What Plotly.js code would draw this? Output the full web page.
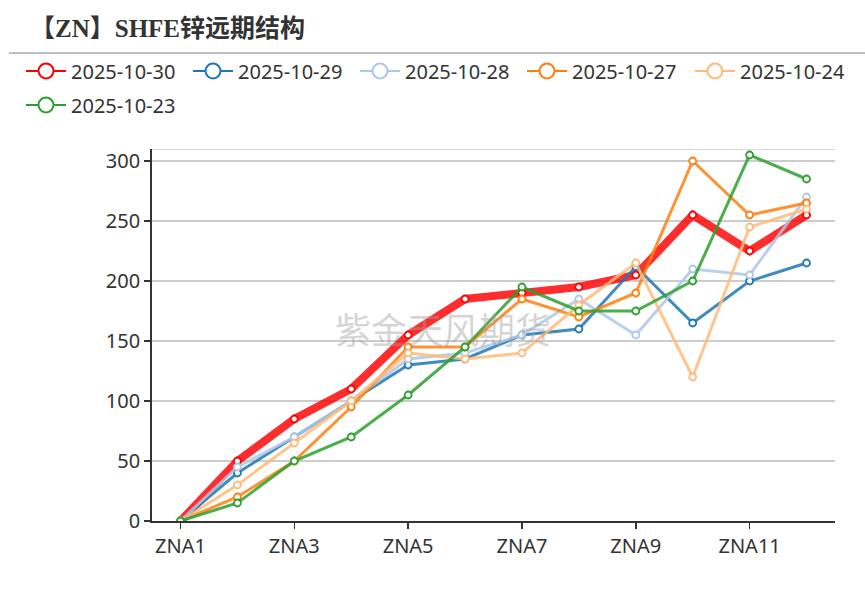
<!DOCTYPE html>
<html>
<head>
<meta charset="utf-8">
<script src="https://cdn.plot.ly/plotly-3.0.1.min.js"></script>
<style>html,body{margin:0;padding:0;background:#fff;}#chart{width:865px;height:590px;}</style>
</head>
<body>
<div id="chart"></div>
<script>
const categories = ['ZNA1','ZNA2','ZNA3','ZNA4','ZNA5','ZNA6','ZNA7','ZNA8','ZNA9','ZNA10','ZNA11','ZNA12'];
const seriesNames = ['2025-10-30','2025-10-29','2025-10-28','2025-10-27','2025-10-24','2025-10-23'];
const s1030 = [0, 50, 85, 110, 155, 185, 190, 195, 205, 255, 225, 255];
const s1029 = [0, 40, 70, 100, 130, 135, 155, 160, 212, 165, 200, 215];
const s1028 = [0, 45, 70, 100, 135, 140, 155, 185, 155, 210, 205, 270];
const s1027 = [0, 20, 50, 95, 145, 145, 185, 170, 190, 300, 255, 265];
const s1024 = [0, 30, 65, 100, 140, 135, 140, 180, 215, 120, 245, 260];
const s1023 = [0, 15, 50, 70, 105, 145, 195, 175, 175, 200, 305, 285];
const xTickLabels = ['ZNA1','ZNA3','ZNA5','ZNA7','ZNA9','ZNA11'];
const yTicks = [0, 50, 100, 150, 200, 250, 300];

const seriesValues = [s1030, s1029, s1028, s1027, s1024, s1023];
const colors = ['rgba(255,0,0,0.82)','rgba(31,119,180,0.85)','rgba(174,199,232,0.85)','rgba(255,127,14,0.85)','rgba(255,187,120,0.85)','rgba(44,160,44,0.85)'];
const legendColors = ['#ff0000','#1f77b4','#aec7e8','#ff7f0e','#ffbb78','#2ca02c'];
const widths = [8, 3, 3, 3, 3, 3];
// legend placement (pixels in the 865x590 page)
const legendX = [21, 188, 355, 522, 690, 21];
const legendY = [71, 71, 71, 71, 71, 105];

const traces = [];
seriesValues.forEach((vals, i) => {
  traces.push({
    type: 'scatter', mode: 'lines+markers',
    x: categories, y: vals, name: seriesNames[i], showlegend: false,
    line: {color: colors[i], width: widths[i]},
    marker: {symbol: 'circle', size: 7, color: '#ffffff', line: {color: legendColors[i], width: 1.8}},
    hoverinfo: 'skip'
  });
});
const legendFont = {size: 20, color: '#333333', family: "'Noto Sans', 'Noto Sans CJK SC', sans-serif"};
const layout = {
  width: 865, height: 590,
  margin: {l: 152, r: 30, t: 149, b: 69},
  paper_bgcolor: '#ffffff', plot_bgcolor: '#ffffff',
  font: {family: "'Noto Sans', 'Noto Sans CJK SC', sans-serif", color: '#333333', size: 20},
  title: {
    text: '【ZN】SHFE锌远期结构',
    font: {family: "'Liberation Serif', 'Noto Sans CJK SC', serif", size: 25, color: '#333333', weight: 'bold'},
    xref: 'container', yref: 'container', x: 30/865, xanchor: 'left', y: 1 - 28/590, yanchor: 'middle'
  },
  showlegend: true,
  xaxis: {
    type: 'category', range: [-0.5, 11.5], categoryorder: 'array', categoryarray: categories,
    tickmode: 'array', tickvals: xTickLabels, ticktext: xTickLabels,
    ticks: 'outside', ticklen: 6, tickwidth: 1.5, tickcolor: '#333333',
    showline: true, linecolor: '#333333', linewidth: 1.8,
    showgrid: false, zeroline: false, fixedrange: true,
    tickfont: {size: 20, color: '#333333'}
  },
  yaxis: {
    range: [0, 310], tickmode: 'array', tickvals: yTicks,
    ticks: 'outside', ticklen: 6, tickwidth: 1.5, tickcolor: '#333333',
    showline: true, linecolor: '#333333', linewidth: 1.8,
    showgrid: true, gridcolor: '#cccccc', gridwidth: 1.5, zeroline: false, fixedrange: true,
    tickfont: {size: 20, color: '#333333'}
  },
  shapes: [
    {type: 'line', xref: 'paper', yref: 'paper', x0: (9-152)/683, x1: (865-152)/683, y0: (521-53)/372, y1: (521-53)/372,
     line: {color: '#aaaaaa', width: 1.5}},
    {type: 'line', xref: 'paper', yref: 'y', x0: 0, x1: 1, y0: 310, y1: 310, line: {color: '#cccccc', width: 1.5}, layer: 'below'}
  ],
  annotations: [
    {text: '紫金天风期货', xref: 'paper', yref: 'paper', x: (443-152)/683, y: (521-328)/372, showarrow: false,
     font: {size: 36, color: 'rgba(160,160,160,0.45)', family: "'Noto Sans CJK SC', sans-serif"}, xanchor: 'center', yanchor: 'middle'}
  ]
};
seriesNames.forEach((n, i) => {
  const key = i === 0 ? 'legend' : 'legend' + (i + 1);
  traces.push({
    type: 'scatter', mode: 'lines+markers', x: [null], y: [null], name: n, showlegend: true,
    legend: key,
    line: {color: legendColors[i], width: 2},
    marker: {symbol: 'circle', size: 15, color: '#ffffff', line: {color: legendColors[i], width: 2}}
  });
  layout[key] = {
    orientation: 'h', xref: 'container', yref: 'container',
    x: legendX[i] / 865, xanchor: 'left', y: 1 - legendY[i] / 590, yanchor: 'middle',
    font: legendFont, itemwidth: 40, bgcolor: 'rgba(0,0,0,0)'
  };
});

Plotly.newPlot('chart', traces, layout, {displayModeBar: false, staticPlot: true});
</script>
</body>
</html>
